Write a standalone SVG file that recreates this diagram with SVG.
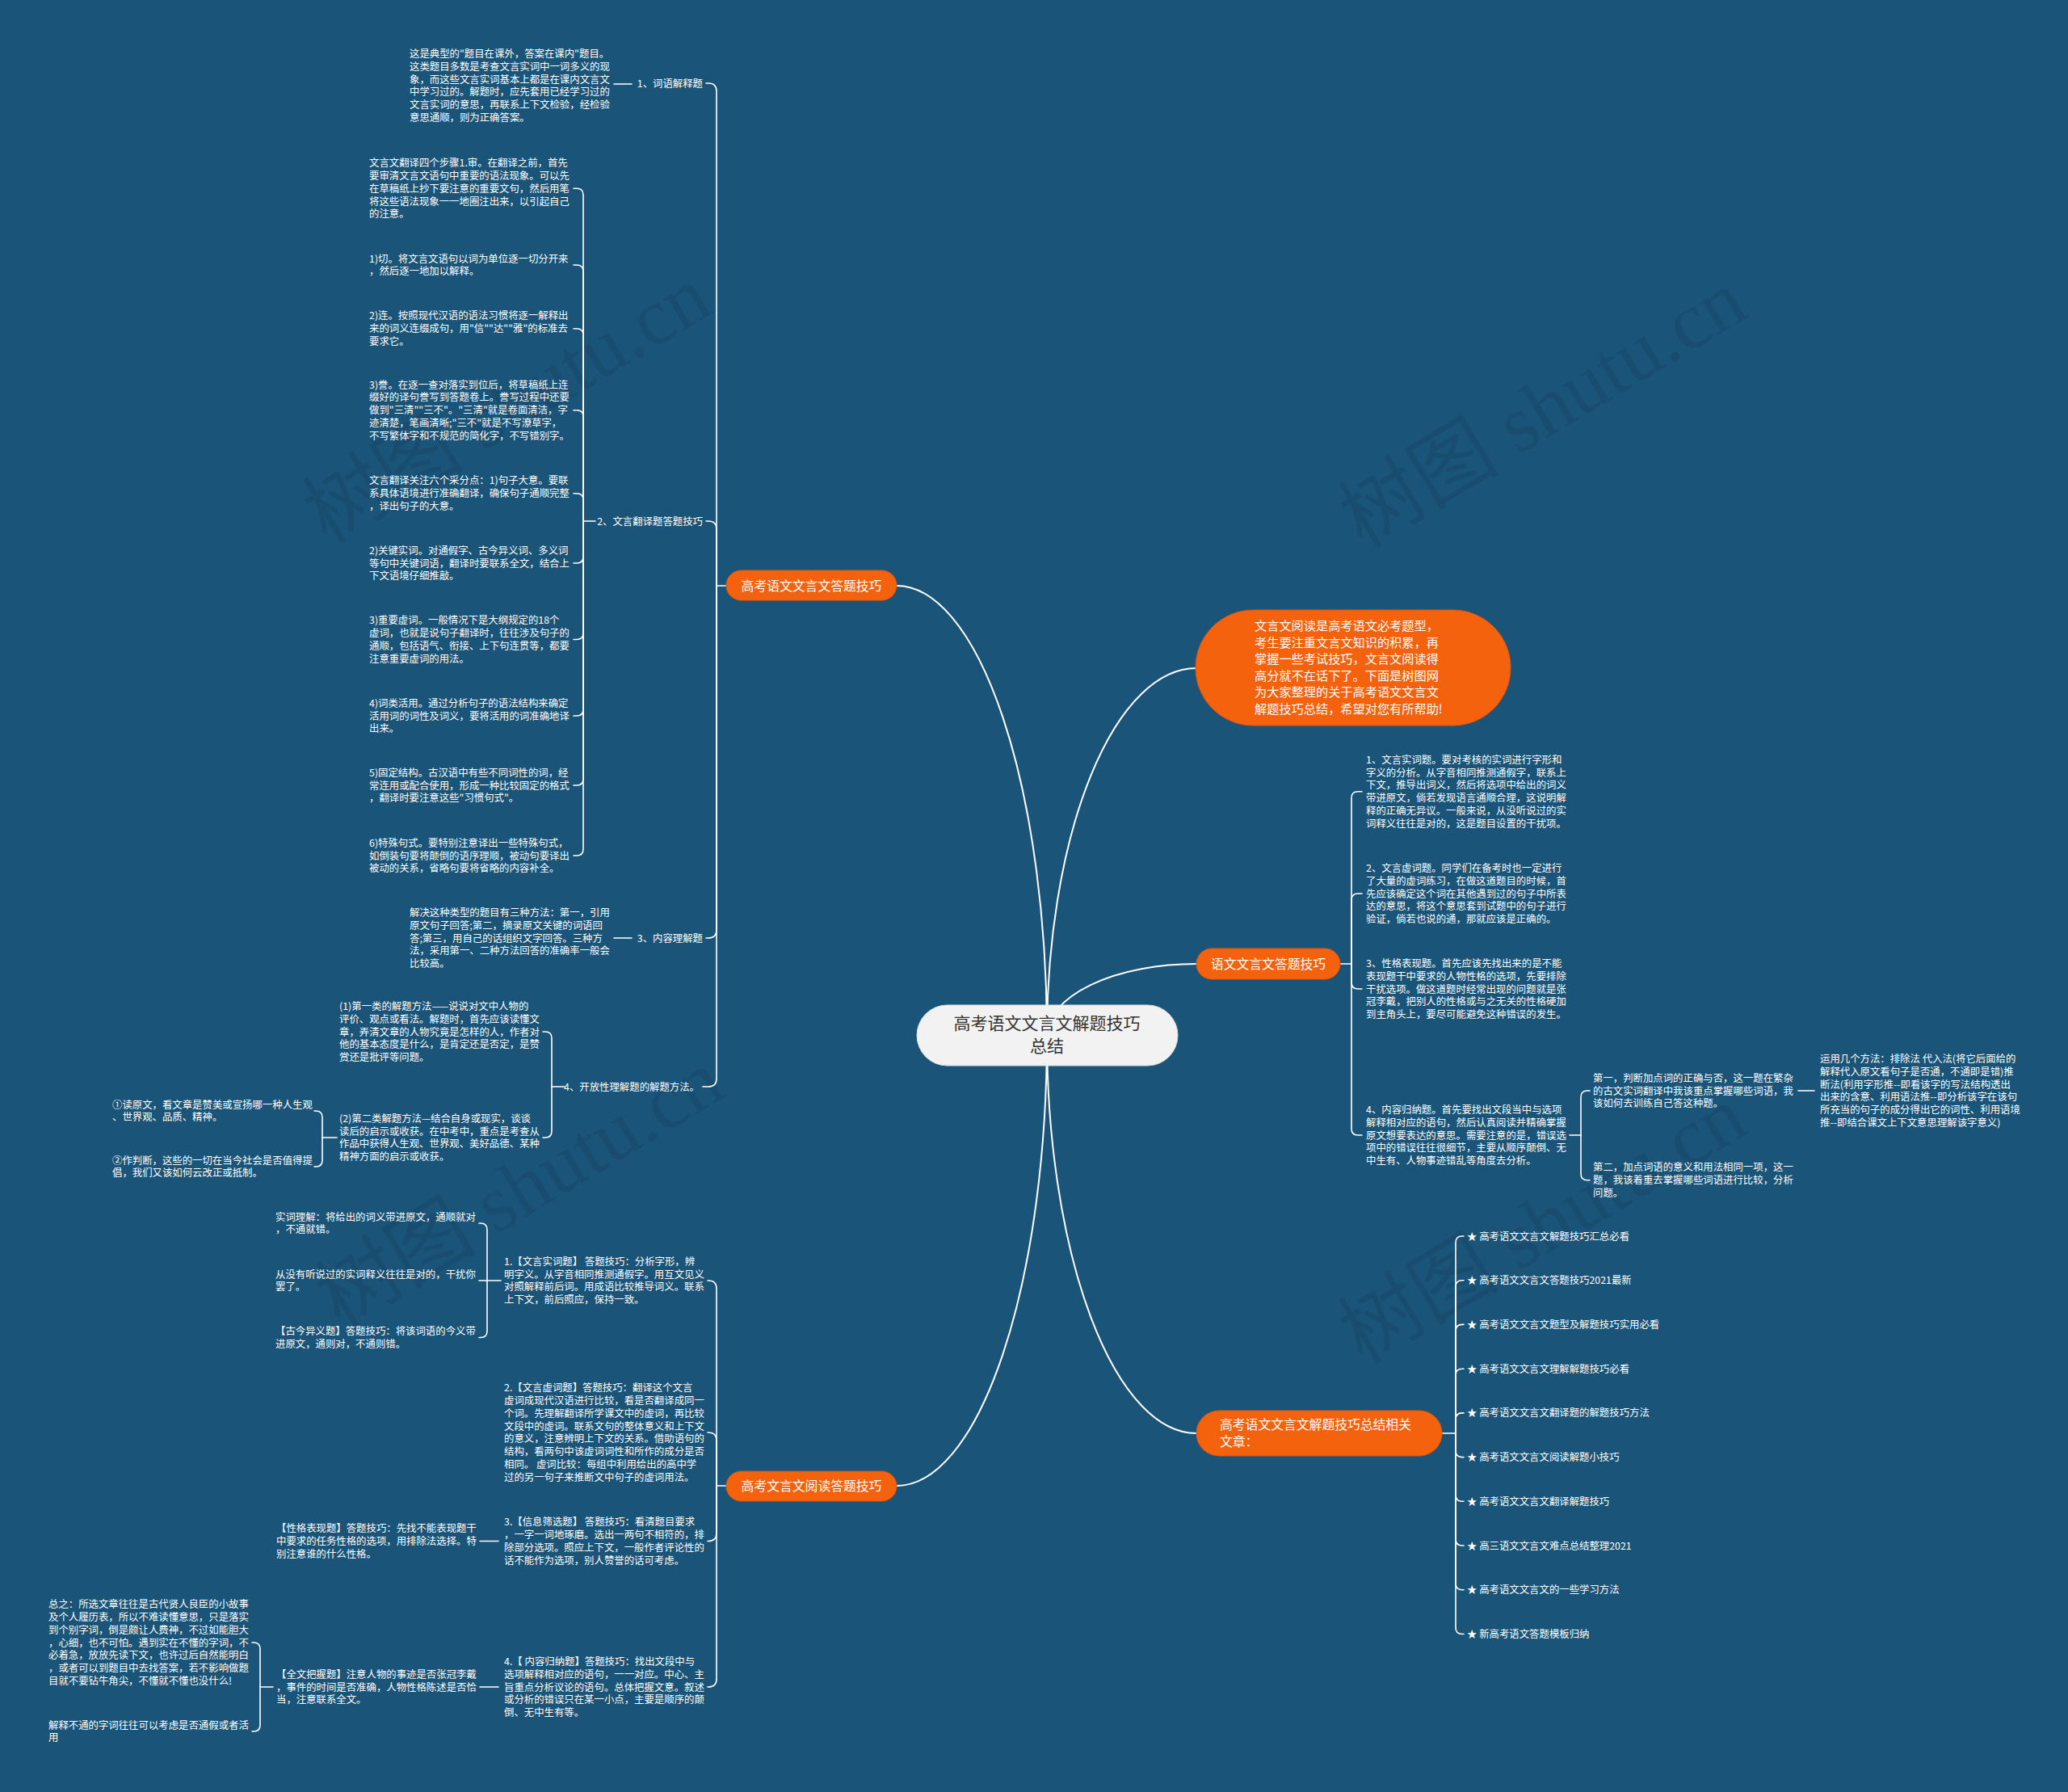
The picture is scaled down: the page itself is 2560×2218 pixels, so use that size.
<svg xmlns="http://www.w3.org/2000/svg" width="2560" height="2218" viewBox="0 0 2560 2218">
<defs>
<style>
.bg{fill:#1a5479}
.t{font-family:"Noto Sans CJK SC","Liberation Sans",sans-serif;font-size:12.4px;fill:#ffffff}
.nt{font-family:"Noto Sans CJK SC","Liberation Sans",sans-serif;font-size:15.8px;fill:#ffffff}
.it{font-family:"Noto Sans CJK SC","Liberation Sans",sans-serif;font-size:15.2px;fill:#ffffff}
.ct{font-family:"Noto Sans CJK SC","Liberation Sans",sans-serif;font-size:21px;fill:#333333}
.on{fill:#f4620e;stroke:#e0560a;stroke-width:1}
.cn{fill:#f2f2f2;stroke:#dddddd;stroke-width:1}
.ln{fill:none;stroke:#ffffff;stroke-width:1.6;stroke-linecap:round}
.mln{fill:none;stroke:#ffffff;stroke-width:2}
.wm{font-family:"Liberation Serif","Noto Sans CJK SC",serif;font-size:100px;fill:#000000;opacity:0.07}
</style>
</defs>
<rect class="bg" x="0" y="0" width="2560" height="2218"/>

<g id="watermarks">
<text class="wm" text-anchor="middle" transform="translate(645,530) rotate(-31)">树图 shutu.cn</text>
<text class="wm" text-anchor="middle" transform="translate(1927,535) rotate(-31)">树图 shutu.cn</text>
<text class="wm" text-anchor="middle" transform="translate(661,1500) rotate(-31)">树图 shutu.cn</text>
<text class="wm" text-anchor="middle" transform="translate(1927,1545) rotate(-31)">树图 shutu.cn</text>
</g>

<g id="connectors">
<path class="mln" d="M1296,1282 A186,557 0 0 0 1110,725"/>
<path class="mln" d="M1296,1282 A186,557 0 0 1 1110,1839"/>
<path class="mln" d="M1296,1282 A185,455 0 0 1 1481,827"/>
<path class="mln" d="M1296,1282 A185,89 0 0 1 1481,1193"/>
<path class="mln" d="M1296,1282 A185,492 0 0 0 1481,1774"/>

<path class="ln" d="M899,725 H887"/>
<path class="ln" d="M887,725 V113 Q887,103 877,103 H874"/>
<path class="ln" d="M887,725 V655 Q887,645 877,645 H874"/>
<path class="ln" d="M887,725 V1151 Q887,1161 877,1161 H874"/>
<path class="ln" d="M887,725 V1335 Q887,1345 877,1345 H870"/>

<path class="ln" d="M760,104 H782"/>
<path class="ln" d="M737,645 H722"/>
<path class="ln" d="M722,645 V241.3 Q722,233.3 714,233.3 H710"/>
<path class="ln" d="M722,645 V336 Q722,328 714,328 H710"/>
<path class="ln" d="M722,645 V414.7 Q722,406.7 714,406.7 H710"/>
<path class="ln" d="M722,645 V515.7 Q722,507.7 714,507.7 H710"/>
<path class="ln" d="M722,645 V618.7 Q722,610.7 714,610.7 H710"/>
<path class="ln" d="M722,645 V689 Q722,697 714,697 H710"/>
<path class="ln" d="M722,645 V783.5 Q722,791.5 714,791.5 H710"/>
<path class="ln" d="M722,645 V878 Q722,886 714,886 H710"/>
<path class="ln" d="M722,645 V964 Q722,972 714,972 H710"/>
<path class="ln" d="M722,645 V1051 Q722,1059 714,1059 H710"/>
<path class="ln" d="M760,1161 H782"/>

<path class="ln" d="M699,1345 H683"/>
<path class="ln" d="M683,1345 V1285 Q683,1277 675,1277 H672"/>
<path class="ln" d="M683,1345 V1400 Q683,1408 675,1408 H672"/>
<path class="ln" d="M417,1408 H399"/>
<path class="ln" d="M399,1408 V1383 Q399,1375 391,1375 H389"/>
<path class="ln" d="M399,1408 V1436 Q399,1444 391,1444 H389"/>

<path class="ln" d="M899,1839 H887"/>
<path class="ln" d="M887,1839 V1595 Q887,1585 877,1585 H876"/>
<path class="ln" d="M887,1839 V1783 Q887,1773 877,1773 H876"/>
<path class="ln" d="M887,1839 V1897.5 Q887,1907.5 877,1907.5 H876"/>
<path class="ln" d="M887,1839 V2078 Q887,2088 877,2088 H876"/>

<path class="ln" d="M620,1585 H603"/>
<path class="ln" d="M603,1585 V1522 Q603,1514 595,1514 H593"/>
<path class="ln" d="M603,1585 H593"/>
<path class="ln" d="M603,1585 V1647.5 Q603,1655.5 595,1655.5 H593"/>
<path class="ln" d="M594,1907.5 H617"/>
<path class="ln" d="M594,2088 H617"/>
<path class="ln" d="M338,2088 H322"/>
<path class="ln" d="M322,2088 V2041 Q322,2033 314,2033 H312"/>
<path class="ln" d="M322,2088 V2135 Q322,2143 314,2143 H312"/>

<path class="ln" d="M1659,1193 H1673"/>
<path class="ln" d="M1673,1193 V987.7 Q1673,979.7 1681,979.7 H1686"/>
<path class="ln" d="M1673,1193 V1114 Q1673,1106 1681,1106 H1686"/>
<path class="ln" d="M1673,1193 V1216 Q1673,1224 1681,1224 H1686"/>
<path class="ln" d="M1673,1193 V1397 Q1673,1405 1681,1405 H1686"/>
<path class="ln" d="M1943,1405 H1957"/>
<path class="ln" d="M1957,1405 V1358 Q1957,1350 1965,1350 H1968"/>
<path class="ln" d="M1957,1405 V1452.7 Q1957,1460.7 1965,1460.7 H1968"/>
<path class="ln" d="M2226,1350 H2246"/>

<path class="ln" d="M1785,1774 H1802"/>
<path class="ln" d="M1802,1774 V1538 Q1802,1530 1810,1530 H1812"/>
<path class="ln" d="M1802,1774 V1592.7 Q1802,1584.7 1810,1584.7 H1812"/>
<path class="ln" d="M1802,1774 V1647.4 Q1802,1639.4 1810,1639.4 H1812"/>
<path class="ln" d="M1802,1774 V1702.2 Q1802,1694.2 1810,1694.2 H1812"/>
<path class="ln" d="M1802,1774 V1756.9 Q1802,1748.9 1810,1748.9 H1812"/>
<path class="ln" d="M1802,1774 V1795.6 Q1802,1803.6 1810,1803.6 H1812"/>
<path class="ln" d="M1802,1774 V1850.3 Q1802,1858.3 1810,1858.3 H1812"/>
<path class="ln" d="M1802,1774 V1905 Q1802,1913 1810,1913 H1812"/>
<path class="ln" d="M1802,1774 V1959.8 Q1802,1967.8 1810,1967.8 H1812"/>
<path class="ln" d="M1802,1774 V2014.5 Q1802,2022.5 1810,2022.5 H1812"/>
</g>

<g id="center">
<rect class="cn" x="1135" y="1244" width="323" height="75" rx="37.5"/>
<text class="ct" text-anchor="middle"><tspan x="1296" y="1274">高考语文文言文解题技巧</tspan><tspan x="1296" y="1302">总结</tspan></text>
</g>

<g id="main-left-top">
<rect class="on" x="899" y="706" width="211" height="37" rx="18.5"/>
<text class="nt" x="1004.5" y="730.5" text-anchor="middle">高考语文文言文答题技巧</text>
</g>

<g id="main-left-bottom">
<rect class="on" x="899" y="1821" width="211" height="37" rx="18.5"/>
<text class="nt" x="1004.5" y="1845" text-anchor="middle">高考文言文阅读答题技巧</text>
</g>

<g id="intro">
<rect class="on" x="1480" y="755" width="390" height="143" rx="71.5"/>
<text class="it"><tspan x="1553" y="780">文言文阅读是高考语文必考题型，</tspan><tspan x="1553" y="800.6">考生要注重文言文知识的积累，再</tspan><tspan x="1553" y="821.2">掌握一些考试技巧，文言文阅读得</tspan><tspan x="1553" y="841.8">高分就不在话下了。下面是树图网</tspan><tspan x="1553" y="862.4">为大家整理的关于高考语文文言文</tspan><tspan x="1553" y="883">解题技巧总结，希望对您有所帮助!</tspan></text>
</g>

<g id="main-right-mid">
<rect class="on" x="1481" y="1174" width="178" height="38" rx="19"/>
<text class="nt" x="1570" y="1198.5" text-anchor="middle">语文文言文答题技巧</text>
</g>

<g id="main-right-bottom">
<rect class="on" x="1481" y="1746" width="304" height="56" rx="28"/>
<text class="nt"><tspan x="1510" y="1769">高考语文文言文解题技巧总结相关</tspan><tspan x="1510" y="1790">文章：</tspan></text>
</g>

<g id="label-1"><text class="t" x="870" y="108" text-anchor="end">1、词语解释题</text></g>
<g id="block-a"><text class="t"><tspan x="507" y="71">这是典型的"题目在课外，答案在课内"题目。</tspan><tspan x="507" dy="15.8">这类题目多数是考查文言实词中一词多义的现</tspan><tspan x="507" dy="15.8">象，而这些文言实词基本上都是在课内文言文</tspan><tspan x="507" dy="15.8">中学习过的。解题时，应先套用已经学习过的</tspan><tspan x="507" dy="15.8">文言实词的意思，再联系上下文检验，经检验</tspan><tspan x="507" dy="15.8">意思通顺，则为正确答案。</tspan></text></g>

<g id="label-2"><text class="t" x="870" y="649.5" text-anchor="end">2、文言翻译题答题技巧</text></g>
<g id="block-b1"><text class="t"><tspan x="457" y="206.2">文言文翻译四个步骤1.审。在翻译之前，首先</tspan><tspan x="457" dy="15.8">要审清文言文语句中重要的语法现象。可以先</tspan><tspan x="457" dy="15.8">在草稿纸上抄下要注意的重要文句，然后用笔</tspan><tspan x="457" dy="15.8">将这些语法现象一一地圈注出来，以引起自己</tspan><tspan x="457" dy="15.8">的注意。</tspan></text></g>
<g id="block-b2"><text class="t"><tspan x="457" y="324.6">1)切。将文言文语句以词为单位逐一切分开来</tspan><tspan x="457" dy="15.8">，然后逐一地加以解释。</tspan></text></g>
<g id="block-b3"><text class="t"><tspan x="457" y="395.4">2)连。按照现代汉语的语法习惯将逐一解释出</tspan><tspan x="457" dy="15.8">来的词义连缀成句，用"信""达""雅"的标准去</tspan><tspan x="457" dy="15.8">要求它。</tspan></text></g>
<g id="block-b4"><text class="t"><tspan x="457" y="480.6">3)誊。在逐一查对落实到位后，将草稿纸上连</tspan><tspan x="457" dy="15.8">缀好的译句誊写到答题卷上。誊写过程中还要</tspan><tspan x="457" dy="15.8">做到"三清""三不"。"三清"就是卷面清洁，字</tspan><tspan x="457" dy="15.8">迹清楚，笔画清晰;"三不"就是不写潦草字，</tspan><tspan x="457" dy="15.8">不写繁体字和不规范的简化字，不写错别字。</tspan></text></g>
<g id="block-b5"><text class="t"><tspan x="457" y="599.4">文言翻译关注六个采分点：1)句子大意。要联</tspan><tspan x="457" dy="15.8">系具体语境进行准确翻译，确保句子通顺完整</tspan><tspan x="457" dy="15.8">，译出句子的大意。</tspan></text></g>
<g id="block-b6"><text class="t"><tspan x="457" y="685.7">2)关键实词。对通假字、古今异义词、多义词</tspan><tspan x="457" dy="15.8">等句中关键词语，翻译时要联系全文，结合上</tspan><tspan x="457" dy="15.8">下文语境仔细推敲。</tspan></text></g>
<g id="block-b7"><text class="t"><tspan x="457" y="772.3">3)重要虚词。一般情况下是大纲规定的18个</tspan><tspan x="457" dy="15.8">虚词，也就是说句子翻译时，往往涉及句子的</tspan><tspan x="457" dy="15.8">通顺，包括语气、衔接、上下句连贯等，都要</tspan><tspan x="457" dy="15.8">注意重要虚词的用法。</tspan></text></g>
<g id="block-b8"><text class="t"><tspan x="457" y="874.7">4)词类活用。通过分析句子的语法结构来确定</tspan><tspan x="457" dy="15.8">活用词的词性及词义，要将活用的词准确地译</tspan><tspan x="457" dy="15.8">出来。</tspan></text></g>
<g id="block-b9"><text class="t"><tspan x="457" y="960.7">5)固定结构。古汉语中有些不同词性的词，经</tspan><tspan x="457" dy="15.8">常连用或配合使用，形成一种比较固定的格式</tspan><tspan x="457" dy="15.8">，翻译时要注意这些"习惯句式"。</tspan></text></g>
<g id="block-b10"><text class="t"><tspan x="457" y="1047.7">6)特殊句式。要特别注意译出一些特殊句式，</tspan><tspan x="457" dy="15.8">如倒装句要将颠倒的语序理顺，被动句要译出</tspan><tspan x="457" dy="15.8">被动的关系，省略句要将省略的内容补全。</tspan></text></g>

<g id="label-3"><text class="t" x="870" y="1165.5" text-anchor="end">3、内容理解题</text></g>
<g id="block-c"><text class="t"><tspan x="507" y="1133.9">解决这种类型的题目有三种方法：第一，引用</tspan><tspan x="507" dy="15.8">原文句子回答;第二，摘录原文关键的词语回</tspan><tspan x="507" dy="15.8">答;第三，用自己的话组织文字回答。三种方</tspan><tspan x="507" dy="15.8">法，采用第一、二种方法回答的准确率一般会</tspan><tspan x="507" dy="15.8">比较高。</tspan></text></g>

<g id="label-4"><text class="t" x="866" y="1349.5" text-anchor="end">4、开放性理解题的解题方法。</text></g>
<g id="block-d1"><text class="t"><tspan x="420" y="1249.9">(1)第一类的解题方法——说说对文中人物的</tspan><tspan x="420" dy="15.8">评价、观点或看法。解题时，首先应该读懂文</tspan><tspan x="420" dy="15.8">章，弄清文章的人物究竟是怎样的人，作者对</tspan><tspan x="420" dy="15.8">他的基本态度是什么，是肯定还是否定，是赞</tspan><tspan x="420" dy="15.8">赏还是批评等问题。</tspan></text></g>
<g id="block-d2"><text class="t"><tspan x="420" y="1388.8">(2)第二类解题方法—结合自身或现实，谈谈</tspan><tspan x="420" dy="15.8">读后的启示或收获。在中考中，重点是考查从</tspan><tspan x="420" dy="15.8">作品中获得人生观、世界观、美好品德、某种</tspan><tspan x="420" dy="15.8">精神方面的启示或收获。</tspan></text></g>
<g id="block-e1"><text class="t"><tspan x="139" y="1371.6">①读原文，看文章是赞美或宣扬哪一种人生观</tspan><tspan x="139" dy="15.8">、世界观、品质、精神。</tspan></text></g>
<g id="block-e2"><text class="t"><tspan x="139" y="1440.6">②作判断，这些的一切在当今社会是否值得提</tspan><tspan x="139" dy="15.8">倡，我们又该如何云改正或抵制。</tspan></text></g>

<g id="block-f1"><text class="t"><tspan x="624" y="1565.8">1.【文言实词题】 答题技巧：分析字形，辨</tspan><tspan x="624" dy="15.8">明字义。从字音相同推测通假字。用互文见义</tspan><tspan x="624" dy="15.8">对照解释前后词。用成语比较推导词义。联系</tspan><tspan x="624" dy="15.8">上下文，前后照应，保持一致。</tspan></text></g>
<g id="block-f2"><text class="t"><tspan x="624" y="1722.2">2.【文言虚词题】答题技巧：翻译这个文言</tspan><tspan x="624" dy="15.8">虚词成现代汉语进行比较，看是否翻译成同一</tspan><tspan x="624" dy="15.8">个词。先理解翻译所学课文中的虚词，再比较</tspan><tspan x="624" dy="15.8">文段中的虚词。联系文句的整体意义和上下文</tspan><tspan x="624" dy="15.8">的意义，注意辨明上下文的关系。借助语句的</tspan><tspan x="624" dy="15.8">结构，看两句中该虚词词性和所作的成分是否</tspan><tspan x="624" dy="15.8">相同。 虚词比较：每组中利用给出的高中学</tspan><tspan x="624" dy="15.8">过的另一句子来推断文中句子的虚词用法。</tspan></text></g>
<g id="block-f3"><text class="t"><tspan x="624" y="1888.3">3.【信息筛选题】 答题技巧：看清题目要求</tspan><tspan x="624" dy="15.8">，一字一词地琢磨。选出一两句不相符的，排</tspan><tspan x="624" dy="15.8">除部分选项。照应上下文，一般作者评论性的</tspan><tspan x="624" dy="15.8">话不能作为选项，别人赞誉的话可考虑。</tspan></text></g>
<g id="block-f4"><text class="t"><tspan x="624" y="2060.9">4.【 内容归纳题】答题技巧：找出文段中与</tspan><tspan x="624" dy="15.8">选项解释相对应的语句，一一对应。中心、主</tspan><tspan x="624" dy="15.8">旨重点分析议论的语句。总体把握文意。叙述</tspan><tspan x="624" dy="15.8">或分析的错误只在某一小点，主要是顺序的颠</tspan><tspan x="624" dy="15.8">倒、无中生有等。</tspan></text></g>
<g id="block-g1"><text class="t"><tspan x="341" y="1510.6">实词理解：将给出的词义带进原文，通顺就对</tspan><tspan x="341" dy="15.8">，不通就错。</tspan></text></g>
<g id="block-g2"><text class="t"><tspan x="341" y="1581.6">从没有听说过的实词释义往往是对的，干扰你</tspan><tspan x="341" dy="15.8">罢了。</tspan></text></g>
<g id="block-g3"><text class="t"><tspan x="341" y="1652.1">【古今异义题】答题技巧：将该词语的今义带</tspan><tspan x="341" dy="15.8">进原文，通则对，不通则错。</tspan></text></g>
<g id="block-h1"><text class="t"><tspan x="342" y="1896.2">【性格表现题】答题技巧：先找不能表现题干</tspan><tspan x="342" dy="15.8">中要求的任务性格的选项，用排除法选择。特</tspan><tspan x="342" dy="15.8">别注意谁的什么性格。</tspan></text></g>
<g id="block-h2"><text class="t"><tspan x="342" y="2076.7">【全文把握题】注意人物的事迹是否张冠李戴</tspan><tspan x="342" dy="15.8">，事件的时间是否准确，人物性格陈述是否恰</tspan><tspan x="342" dy="15.8">当，注意联系全文。</tspan></text></g>
<g id="block-i1"><text class="t"><tspan x="60" y="1990.1">总之：所选文章往往是古代贤人良臣的小故事</tspan><tspan x="60" dy="15.8">及个人履历表，所以不难读懂意思，只是落实</tspan><tspan x="60" dy="15.8">到个别字词，倒是颇让人费神，不过如能胆大</tspan><tspan x="60" dy="15.8">，心细，也不可怕。遇到实在不懂的字词，不</tspan><tspan x="60" dy="15.8">必着急，放放先读下文，也许过后自然能明白</tspan><tspan x="60" dy="15.8">，或者可以到题目中去找答案，若不影响做题</tspan><tspan x="60" dy="15.8">目就不要钻牛角尖，不懂就不懂也没什么!</tspan></text></g>
<g id="block-i2"><text class="t"><tspan x="60" y="2139.6">解释不通的字词往往可以考虑是否通假或者活</tspan><tspan x="60" dy="15.8">用</tspan></text></g>

<g id="block-j1"><text class="t"><tspan x="1691" y="944.7">1、文言实词题。要对考核的实词进行字形和</tspan><tspan x="1691" dy="15.8">字义的分析。从字音相同推测通假字，联系上</tspan><tspan x="1691" dy="15.8">下文，推导出词义，然后将选项中给出的词义</tspan><tspan x="1691" dy="15.8">带进原文，倘若发现语言通顺合理，这说明解</tspan><tspan x="1691" dy="15.8">释的正确无异议。一般来说，从没听说过的实</tspan><tspan x="1691" dy="15.8">词释义往往是对的，这是题目设置的干扰项。</tspan></text></g>
<g id="block-j2"><text class="t"><tspan x="1691" y="1078.9">2、文言虚词题。同学们在备考时也一定进行</tspan><tspan x="1691" dy="15.8">了大量的虚词练习，在做这道题目的时候，首</tspan><tspan x="1691" dy="15.8">先应该确定这个词在其他遇到过的句子中所表</tspan><tspan x="1691" dy="15.8">达的意思，将这个意思套到试题中的句子进行</tspan><tspan x="1691" dy="15.8">验证，倘若也说的通，那就应该是正确的。</tspan></text></g>
<g id="block-j3"><text class="t"><tspan x="1691" y="1196.9">3、性格表现题。首先应该先找出来的是不能</tspan><tspan x="1691" dy="15.8">表现题干中要求的人物性格的选项，先要排除</tspan><tspan x="1691" dy="15.8">干扰选项。做这道题时经常出现的问题就是张</tspan><tspan x="1691" dy="15.8">冠李戴，把别人的性格或与之无关的性格硬加</tspan><tspan x="1691" dy="15.8">到主角头上，要尽可能避免这种错误的发生。</tspan></text></g>
<g id="block-j4"><text class="t"><tspan x="1691" y="1377.9">4、内容归纳题。首先要找出文段当中与选项</tspan><tspan x="1691" dy="15.8">解释相对应的语句，然后认真阅读并精确掌握</tspan><tspan x="1691" dy="15.8">原文想要表达的意思。需要注意的是，错误选</tspan><tspan x="1691" dy="15.8">项中的错误往往很细节，主要从顺序颠倒、无</tspan><tspan x="1691" dy="15.8">中生有、人物事迹错乱等角度去分析。</tspan></text></g>
<g id="block-k1"><text class="t"><tspan x="1972" y="1338.7">第一，判断加点词的正确与否，这一题在繁杂</tspan><tspan x="1972" dy="15.8">的古文实词翻译中我该重点掌握哪些词语，我</tspan><tspan x="1972" dy="15.8">该如何去训练自己答这种题。</tspan></text></g>
<g id="block-k2"><text class="t"><tspan x="1972" y="1449.4">第二，加点词语的意义和用法相同一项，这一</tspan><tspan x="1972" dy="15.8">题，我该着重去掌握哪些词语进行比较，分析</tspan><tspan x="1972" dy="15.8">问题。</tspan></text></g>
<g id="block-l1"><text class="t"><tspan x="2253" y="1315">运用几个方法：排除法 代入法(将它后面给的</tspan><tspan x="2253" dy="15.8">解释代入原文看句子是否通，不通即是错)推</tspan><tspan x="2253" dy="15.8">断法(利用字形推--即看该字的写法结构透出</tspan><tspan x="2253" dy="15.8">出来的含意、利用语法推--即分析该字在该句</tspan><tspan x="2253" dy="15.8">所充当的句子的成分得出它的词性、利用语境</tspan><tspan x="2253" dy="15.8">推--即结合课文上下文意思理解该字意义)</tspan></text></g>

<g id="links">
<text class="t" x="1816" y="1534.5">★ 高考语文文言文解题技巧汇总必看</text>
<text class="t" x="1816" y="1589.2">★ 高考语文文言文答题技巧2021最新</text>
<text class="t" x="1816" y="1643.9">★ 高考语文文言文题型及解题技巧实用必看</text>
<text class="t" x="1816" y="1698.7">★ 高考语文文言文理解解题技巧必看</text>
<text class="t" x="1816" y="1753.4">★ 高考语文文言文翻译题的解题技巧方法</text>
<text class="t" x="1816" y="1808.1">★ 高考语文文言文阅读解题小技巧</text>
<text class="t" x="1816" y="1862.8">★ 高考语文文言文翻译解题技巧</text>
<text class="t" x="1816" y="1917.5">★ 高三语文文言文难点总结整理2021</text>
<text class="t" x="1816" y="1972.3">★ 高考语文文言文的一些学习方法</text>
<text class="t" x="1816" y="2027">★ 新高考语文答题模板归纳</text>
</g>
</svg>
